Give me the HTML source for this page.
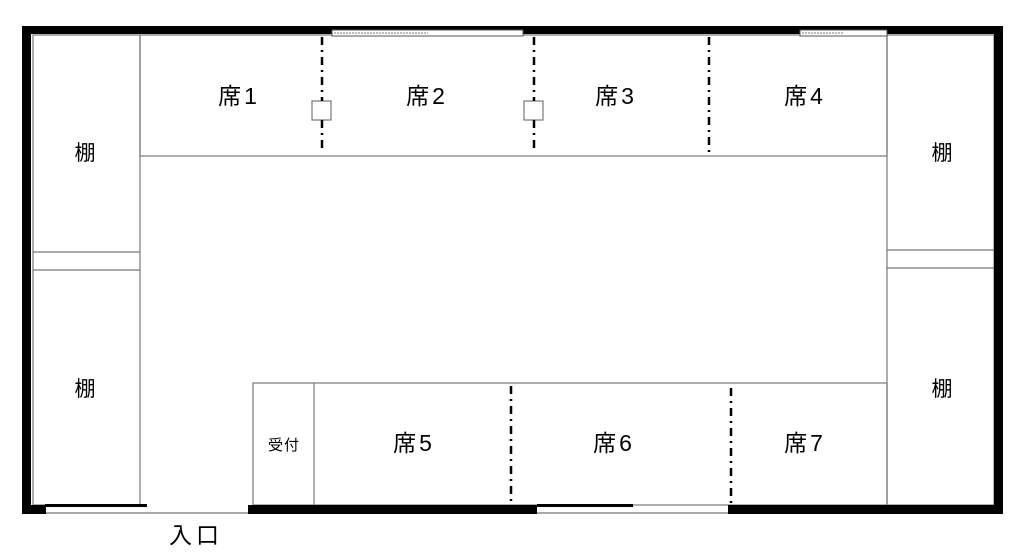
<!DOCTYPE html>
<html><head><meta charset="utf-8"><style>
body{margin:0;background:#fff;}
svg text{font-family:"Liberation Sans","Noto Sans CJK JP",sans-serif;fill:#000;}
</style></head><body>
<svg width="1024" height="549" viewBox="0 0 1024 549" xmlns="http://www.w3.org/2000/svg">
<rect width="1024" height="549" fill="#fff"/>
<g fill="none" stroke="#777" stroke-width="1.2">
<rect x="140" y="35" width="747" height="121"/>
<rect x="33" y="35" width="107" height="470"/>
<line x1="33" y1="252" x2="140" y2="252"/>
<line x1="33" y1="270" x2="140" y2="270"/>
<rect x="887" y="35" width="107" height="470"/>
<line x1="887" y1="250" x2="994" y2="250"/>
<line x1="887" y1="268" x2="994" y2="268"/>
<rect x="253" y="383" width="634" height="122"/>
<line x1="314" y1="383" x2="314" y2="505"/>
<rect x="312" y="101" width="19" height="19" fill="#fff"/>
<rect x="524" y="101" width="19" height="19" fill="#fff"/>
<line x1="45" y1="513" x2="728" y2="513"/>
</g>
<g stroke="#000" stroke-width="2.5" stroke-dasharray="8,5,2,5">
<line x1="322" y1="37" x2="322" y2="101"/><line x1="322" y1="120" x2="322" y2="152"/>
<line x1="534" y1="37" x2="534" y2="101"/><line x1="534" y1="120" x2="534" y2="152"/>
<line x1="709" y1="37" x2="709" y2="152"/>
<line x1="511" y1="386" x2="511" y2="503"/>
<line x1="731" y1="388" x2="731" y2="503"/>
</g>
<g fill="#000">
<rect x="22" y="26" width="981" height="8"/>
<rect x="22" y="26" width="9" height="488"/>
<rect x="994" y="33" width="9" height="481"/>
<rect x="22" y="505" width="24" height="9"/>
<rect x="45" y="504" width="102" height="3"/>
<rect x="248" y="505" width="289" height="9"/>
<rect x="537" y="504" width="96" height="3"/>
<rect x="728" y="505" width="275" height="9"/>
</g>
<rect x="332" y="30" width="191" height="6" fill="#fff" stroke="#555" stroke-width="1"/>
<line x1="334" y1="33" x2="428" y2="33" stroke="#777" stroke-dasharray="2,1"/>
<rect x="800" y="30" width="87" height="6" fill="#fff" stroke="#555" stroke-width="1"/>
<line x1="802" y1="33" x2="843" y2="33" stroke="#777" stroke-dasharray="2,1"/>
<g font-size="23" text-anchor="middle" letter-spacing="3">
<text x="239" y="104">席1</text>
<text x="427" y="104">席2</text>
<text x="616" y="104">席3</text>
<text x="805" y="104">席4</text>
<text x="414" y="451">席5</text>
<text x="614" y="451">席6</text>
<text x="805" y="451">席7</text>
</g>
<g font-size="21" text-anchor="middle">
<text x="85" y="160">棚</text>
<text x="85" y="396">棚</text>
<text x="942" y="160">棚</text>
<text x="942" y="396">棚</text>
</g>
<text x="284" y="450" font-size="15" text-anchor="middle" letter-spacing="1">受付</text>
<text x="196" y="543" font-size="23" text-anchor="middle" letter-spacing="4">入口</text>
</svg>
</body></html>
